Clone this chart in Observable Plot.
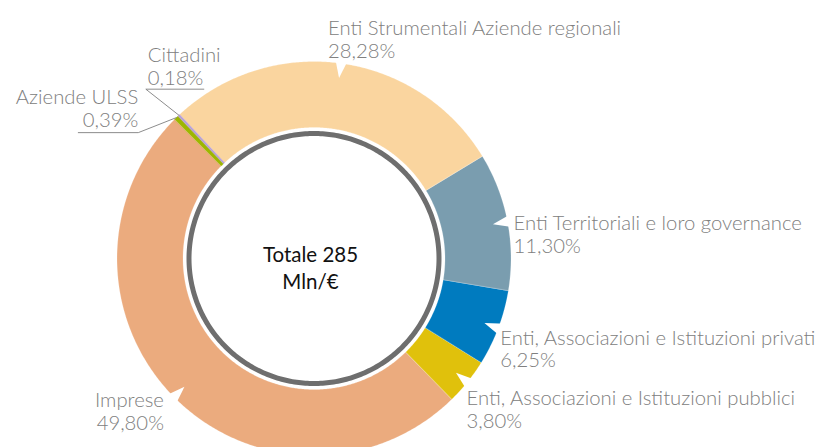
<!DOCTYPE html>
<html><head><meta charset="utf-8">
<script src="https://cdn.jsdelivr.net/npm/d3@7"></script>
<script src="https://cdn.jsdelivr.net/npm/@observablehq/plot@0.6"></script>
<style>html,body{margin:0;padding:0;background:#fff;}#chart{width:820px;height:447px;overflow:hidden;}</style>
</head><body><div id="chart"></div>
<script>
// ---- data ----
const categories = [
  "Enti Strumentali Aziende regionali",
  "Enti Territoriali e loro governance",
  "Enti, Associazioni e Istituzioni privati",
  "Enti, Associazioni e Istituzioni pubblici",
  "Imprese",
  "Aziende ULSS",
  "Cittadini"
];
const shares = [28.28, 11.30, 6.25, 3.80, 49.80, 0.39, 0.18];
const shareLabels = ["28,28%", "11,30%", "6,25%", "3,80%", "49,80%", "0,39%", "0,18%"];
const centerLines = ["Totale 285", "Mln/€"];

// ---- styles & layout ----
const colors = ["#FAD59F", "#7A9DAF", "#007BBF", "#E0C10C", "#EBAB7E", "#9DB600", "#B7A0D6"];
const firstSliceAngle = -43;          // degrees, clockwise from 12 o'clock
const W = 820, H = 447, cx = 313.5, cy = 258, R = 197;
const innerR = 131 / R, ringR = 125 / R;
const labelFont = "Lato, 'Open Sans', sans-serif";
// pixel nudges of each label from its slice's outer mid-point
const labelLayout = [
  {dx: -13, dy: -45, anchor: "start", notch: true},
  {dx: 6, dy: -8, anchor: "start", notch: true},
  {dx: 2, dy: 0, anchor: "start", notch: true},
  {dx: -1, dy: 7, anchor: "start", notch: true},
  {dx: -10, dy: -6, anchor: "end", notch: true},
  {dx: -38, dy: -30, anchor: "end", leader: [[-38, 15], [-98, 15]]},
  {dx: -31, dy: -69, anchor: "start", leader: [[-33, -26], [25, -26]]}
];

const total = d3.sum(shares);
const rad = a => a * Math.PI / 180;
const px = (r, a) => r * Math.sin(rad(a));
const py = (r, a) => r * Math.cos(rad(a));
let acc = firstSliceAngle;
const slices = categories.map((c, i) => {
  const a0 = acc, a1 = acc + shares[i] / total * 360;
  acc = a1;
  return {c, i, a0, a1, mid: (a0 + a1) / 2, color: colors[i], label: c + "\n" + shareLabels[i]};
});

function arcPoints(s) {
  const n = Math.max(2, Math.ceil((s.a1 - s.a0) / 0.5));
  const pts = [];
  for (let k = 0; k <= n; k++) { const a = s.a0 + (s.a1 - s.a0) * k / n; pts.push({x: px(1, a), y: py(1, a)}); }
  for (let k = n; k >= 0; k--) { const a = s.a0 + (s.a1 - s.a0) * k / n; pts.push({x: px(innerR, a), y: py(innerR, a)}); }
  return pts;
}
const notchPoints = s => [
  {x: px(1.03, s.mid - 2), y: py(1.03, s.mid - 2)},
  {x: px(1.03, s.mid + 2), y: py(1.03, s.mid + 2)},
  {x: px(0.925, s.mid), y: py(0.925, s.mid)}
];
const ringPoints = d3.range(0, 361, 1).map(a => ({x: px(ringR, a), y: py(ringR, a)}));

const marks = [];
slices.forEach(s => marks.push(Plot.line(arcPoints(s), {
  x: "x", y: "y", curve: "linear-closed", fill: s.color,
  stroke: shares[s.i] < 1 ? s.color : "white", strokeWidth: shares[s.i] < 1 ? 0.3 : 0.2
})));
slices.forEach((s, i) => {
  const L = labelLayout[i];
  if (L.notch) marks.push(Plot.line(notchPoints(s), {x: "x", y: "y", curve: "linear-closed", fill: "white", stroke: "none"}));
  if (L.leader) {
    const ax = px(1, s.mid), ay = py(1, s.mid);
    const pts = [{x: ax, y: ay}, ...L.leader.map(([ox, oy]) => ({x: ax + ox / R, y: ay - oy / R}))];
    marks.push(Plot.line(pts, {x: "x", y: "y", stroke: "#7f7f7f", strokeWidth: 0.9}));
  }
  marks.push(Plot.text([s], {
    x: d => px(1, d.mid), y: d => py(1, d.mid), text: "label",
    dx: L.dx, dy: L.dy, textAnchor: L.anchor, lineAnchor: "top",
    fontSize: 20.3, lineHeight: 1.13, fill: "#808080", fontFamily: labelFont, fontWeight: 300
  }));
});
marks.push(Plot.line(ringPoints, {x: "x", y: "y", stroke: "#6e6e6e", strokeWidth: 5, fill: "white"}));
marks.push(Plot.text([{x: 0, y: 0, t: centerLines.join("\n")}], {
  x: "x", y: "y", text: "t", dx: -3.5, dy: 8.5, lineAnchor: "middle", textAnchor: "middle",
  fontSize: 20.5, lineHeight: 1.32, fill: "#111", fontFamily: labelFont, fontWeight: 400
}));

const chart = Plot.plot({
  width: W, height: H, margin: 0,
  style: {background: "white", overflow: "visible"},
  x: {type: "linear", domain: [-1, 1], range: [cx - R, cx + R], axis: null},
  y: {type: "linear", domain: [-1, 1], range: [cy + R, cy - R], axis: null},
  marks
});
document.getElementById("chart").appendChild(chart);
</script>
</body></html>
